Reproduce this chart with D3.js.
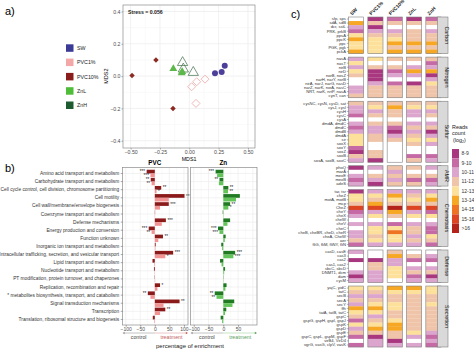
<!DOCTYPE html>
<html><head><meta charset="utf-8">
<script src="https://cdn.jsdelivr.net/npm/d3@7"></script>
<style>body{margin:0;background:#fff}svg{display:block;font-family:"Liberation Sans",Arial,sans-serif}</style>
</head><body><svg id="c" width="474" height="350"></svg>
<script>
// ---------- Panel a data ----------
const treatments = ["SW","PVC1%","PVC10%","ZnL","ZnH"];
const treatmentColors = ["#3b3a97","#f3a7a7","#8b1c1c","#4fbd3a","#1f5b30"];
const swMDS1 = [0.219, 0.276, 0.302];
const swMDS2 = [0.017, 0.025, 0.064];
const pvc1MDS1 = [0.020, 0.063, 0.134, 0.057];
const pvc1MDS2 = [-0.066, -0.035, -0.019, -0.169];
const pvc10MDS1 = [-0.488, -0.284, -0.139];
const pvc10MDS2 = [0.003, 0.099, -0.200];
const znLMDS1 = [-0.136, -0.065, -0.060];
const znLMDS2 = [0.048, 0.023, 0.030];
const znHMDS1 = [-0.057, -0.051, 0.034];
const znHMDS2 = [0.088, 0.048, 0.027];
const mds1Ticks = [-0.50, -0.25, 0.00, 0.25, 0.50];
const mds2Ticks = [-0.4, -0.2, 0.0, 0.2, 0.4];
const stressLabel = "Stress = 0.056";

// ---------- Panel b data ----------
const cogCategories = [
 "Amino acid transport and metabolism",
 "Carbohydrate transport and metabolism",
 "Cell cycle control, cell division, chromosome partitioning",
 "Cell motility",
 "Cell wall/membrane/envelope biogenesis",
 "Coenzyme transport and metabolism",
 "Defense mechanisms",
 "Energy production and conversion",
 "Function unknown",
 "Inorganic ion transport and metabolism",
 "Intracellular trafficking, secretion, and vesicular transport",
 "Lipid transport and metabolism",
 "Nucleotide transport and metabolism",
 "PT modification, protein turnover, and chaperones",
 "Replication, recombination and repair",
 "* metabolites biosynthesis, transport, and catabolism",
 "Signal transduction mechanisms",
 "Transcription",
 "Translation, ribosomal structure and biogenesis"];
const pvc10Values = [-28,-14,22,102,48,1,38,-21,28,3,63,-8,-3,-1,18,-24,85,36,-7];
const pvc1Values  = [-15,-11,6,48,18,1,24,-11,12,2,36,-2,-1,1,9,-15,30,18,-2];
const znHValues   = [-26,-13,17,56,23,-2,23,-18,8,-7,40,-11,6,-1,11,-29,37,10,-9];
const znLValues   = [-21,-15,16,43,17,1,14,-13,5,-4,34,-6,3,1,7,-23,31,6,-4];
const pvc10Stars = ["***","**","**","**","***","","***","***","**","","***","","","","*","**","**","**",""];
const pvc1Stars  = ["***","**","*","","","","","**","","","*","","","","","","","",""];
const znHStars   = ["***","**","**","","**","","","***","","","***","","","","","**","","",""];
const znLStars   = ["","","**","","*","","","***","","","***","","","","","**","","",""];
const pvcTicks = [-100,-50,0,50,100];
const znTicks = [-100,-50,0,50];

// ---------- Panel c data ----------
const heatColumns = ["SW","PVC1%","PVC10%","ZnL","ZnH"];
const heatGroups = ["Carbon","Nitrogen","Sulfur","AMR","Chemotaxis","Defense","Secretion"];
const levelLabels = ["8-9","9-10","10-11","11-12","12-13","13-14","14-15","15-16",">16"];
const levelColors = ["#a8377f","#c66aa6","#dca5cd","#efc4a9","#fde19b","#f6a724","#ee7424","#dd4421","#b3231a"];
const carbonGenes = ["sfp, sps","sdA, sdB","dcr, sstL","PRK, prkB","ppsA","ppcK","ppc","PGK, pgk","pckA"];
const carbonLevels = [[0,1,2,1,2],[6,4,4,4,4],[3,1,0,0,0],[2,3,3,4,3],[5,4,4,4,4],[6,5,5,4,4],[5,5,6,6,6],[5,5,4,4,4],[6,5,6,6,6]];
const nitrogenGenes = ["nasA","nasT","nirB","nirD","norB, nosZ","narH, narY, nxrB","nirA, narJ, narG, nasD","narZ, narK, nxrA, nasC","NRT, narK, nrtP, nasA","cynT, can"];
const nitrogenLevels = [[3,5,4,4,4],[5,0,0,0,2],[3,4,4,3,3],[5,1,2,6,6],[4,1,3,3,1],[0,1,0,0,3],[0,3,2,1,5],[3,4,4,4,4],[3,4,4,4,4],[4,4,4,4,4]];
const sulfurGenes = ["cysNC, cysN, cysD, sat","cysJ, cysI","cysH","cysC","cysA","dmdA, dmdC","dmdC","dmdB","dmdA","sir","soxX","soxY","soxZ","soxB","soxA, soxB, soxC"];
const sulfurLevels = [[4,4,4,4,4],[3,5,6,5,5],[3,3,4,3,3],[2,4,4,3,4],[0,0,0,0,0],[3,4,4,3,3],[2,3,2,4,4],[3,3,1,3,1],[5,4,3,4,3],[5,4,4,5,5],[5,0,0,4,3],[2,0,0,0,0],[1,4,0,0,0],[4,4,0,2,2],[3,1,0,4,3]];
const amrGenes = ["phoQ","marA","mexE","mexB","adeS"];
const amrLevels = [[1,3,4,4,3],[0,0,3,0,0],[3,4,4,4,4],[2,3,3,2,2],[3,1,4,4,3]];
const chemoGenes = ["tar, tsr","cheZ","motA, motB","mcp","CheZ","cheY","cheX","cheW","cheV","cheC","cheB, cheBR, cheD, cheR","cheA, CheW","aer","fliG, fliM, fliNY, fliN"];
const chemoLevels = [[1,3,3,3,3],[5,5,6,4,5],[5,4,5,5,6],[4,6,4,4,4],[8,8,9,8,8],[2,3,6,3,2],[3,5,4,5,5],[0,0,0,0,0],[3,3,2,3,3],[0,5,5,4,2],[3,5,7,4,2],[3,4,5,3,5],[4,5,5,4,4],[2,3,3,3,2]];
const defenseGenes = ["casD, casE","cas3","cas2","cas1, cas2","sbcC, sbcD","DNMT1, dcm","dam","cycM"];
const defenseLevels = [[3,0,4,0,0],[0,0,6,4,3],[1,1,3,2,2],[0,4,3,0,0],[0,4,5,3,3],[3,3,5,4,4],[1,3,5,2,1],[3,3,0,3,3]];
const secretionGenes = ["yajC, yidC","tatC","secB","secA","secY","ffh","tatA, tatB, tatC","gspC","gspG, gspH, gspI, gspJ","gspK","gspD","gspE","gspC, gspL, gspM, gspF","virB4, VirD4","vgrG, vasG, clpV, vasK"];
const secretionLevels = [[5,5,6,6,5],[4,4,5,5,5],[3,3,4,4,4],[4,4,4,4,4],[3,5,5,4,5],[6,6,5,4,4],[5,5,4,4,4],[4,3,4,4,4],[2,4,5,4,4],[5,5,6,4,4],[3,6,6,4,4],[4,4,4,5,3],[2,1,4,3,2],[0,3,1,0,3],[2,3,3,3,2]];

const svg = d3.select("#c");
const gridCol = "#ebebeb", borderCol = "#8c8c8c", tickTxt = "#4d4d4d";

// panel labels
svg.append("text").attr("x",5).attr("y",15).attr("font-size",11).text("a)");
svg.append("text").attr("x",5).attr("y",172).attr("font-size",11).text("b)");
svg.append("text").attr("x",291).attr("y",18).attr("font-size",11).text("c)");

// ================= Panel a =================
(function(){
  const L=123,R=255,T=5,B=148;
  const x = d3.scaleLinear([-0.565,0.56],[L,R]);
  const y = d3.scaleLinear([-0.445,0.44],[B,T]);
  const g = svg.append("g");
  const minorX = d3.range(-0.625,0.6,0.25), minorY = d3.range(-0.3,0.41,0.2);
  g.selectAll(".mx").data(minorX.filter(v=>v>-0.565&&v<0.56)).join("line").attr("x1",d=>x(d)).attr("x2",d=>x(d)).attr("y1",T).attr("y2",B).attr("stroke","#f4f4f4").attr("stroke-width",0.5);
  g.selectAll(".my").data(minorY).join("line").attr("y1",d=>y(d)).attr("y2",d=>y(d)).attr("x1",L).attr("x2",R).attr("stroke","#f4f4f4").attr("stroke-width",0.5);
  g.selectAll(".gx").data(mds1Ticks).join("line").attr("x1",d=>x(d)).attr("x2",d=>x(d)).attr("y1",T).attr("y2",B).attr("stroke",gridCol).attr("stroke-width",0.7);
  g.selectAll(".gy").data(mds2Ticks).join("line").attr("y1",d=>y(d)).attr("y2",d=>y(d)).attr("x1",L).attr("x2",R).attr("stroke",gridCol).attr("stroke-width",0.7);
  const ax = g.append("g").attr("transform",`translate(0,${B})`).call(d3.axisBottom(x).tickValues(mds1Ticks).tickFormat(d3.format(".2f")).tickSize(1.5).tickPadding(0.5));
  const ay = g.append("g").attr("transform",`translate(${L},0)`).call(d3.axisLeft(y).tickValues(mds2Ticks).tickFormat(d3.format(".1f")).tickSize(1.5).tickPadding(1));
  [ax,ay].forEach(a=>{a.select(".domain").remove();a.selectAll("line").attr("stroke","#555").attr("stroke-width",0.5);a.selectAll("text").attr("font-size",5.2).attr("fill",tickTxt).attr("font-family","Liberation Sans, Arial");});
  g.append("rect").attr("x",L).attr("y",T).attr("width",R-L).attr("height",B-T).attr("fill","none").attr("stroke",borderCol).attr("stroke-width",0.7);
  g.append("text").attr("x",(L+R)/2).attr("y",160.5).attr("text-anchor","middle").attr("font-size",5.3).text("MDS1");
  g.append("text").attr("transform",`translate(108,${y(0)}) rotate(-90)`).attr("text-anchor","middle").attr("font-size",5.5).text("MDS2");
  g.append("text").attr("x",128).attr("y",14).attr("font-size",5.2).attr("font-weight","bold").attr("fill","#222").text(stressLabel);
  const diamond = d3.symbol().type(d3.symbolSquare);
  g.selectAll(".p1").data(d3.zip(pvc1MDS1,pvc1MDS2)).join("path").attr("d",diamond.size(32)()).attr("transform",d=>`translate(${x(d[0])},${y(d[1])}) rotate(45)`).attr("fill","none").attr("stroke","#f0b4b4").attr("stroke-width",0.9);
  g.selectAll(".zh").data(d3.zip(znHMDS1,znHMDS2)).join("path").attr("d",d3.symbol(d3.symbolTriangle,46)()).attr("transform",d=>`translate(${x(d[0])},${y(d[1])+0.7})`).attr("fill","none").attr("stroke","#3f6e48").attr("stroke-width",0.7);
  g.selectAll(".zl").data(d3.zip(znLMDS1,znLMDS2)).join("path").attr("d",d3.symbol(d3.symbolTriangle,27)()).attr("transform",d=>`translate(${x(d[0])},${y(d[1])+0.5})`).attr("fill","#5cb84a");
  g.selectAll(".p10").data(d3.zip(pvc10MDS1,pvc10MDS2)).join("path").attr("d",diamond.size(15)()).attr("transform",d=>`translate(${x(d[0])},${y(d[1])}) rotate(45)`).attr("fill","#8b2a22");
  g.selectAll(".sw").data(d3.zip(swMDS1,swMDS2)).join("circle").attr("cx",d=>x(d[0])).attr("cy",d=>y(d[1])).attr("r",3).attr("fill","#4c3f9a");
  const lg = svg.append("g");
  treatments.forEach((t,i)=>{
    const yy = 48 + i*14.3;
    lg.append("rect").attr("x",66).attr("y",yy-3.7).attr("width",7.5).attr("height",7.5).attr("fill",treatmentColors[i]);
    lg.append("text").attr("x",77).attr("y",yy+2).attr("font-size",5.3).attr("fill","#222").text(t);
  });
})();

// ================= Panel b =================
(function(){
  const T=167.5,B=325;
  const y = d3.scaleBand(cogCategories,[169.4,323.5]);
  const sub = d3.scaleBand(["dark","light"],[0.35,y.bandwidth()-0.35]);
  const panels = [
    {name:"PVC",L:122.5,R:188,ticks:pvcTicks,dark:pvc10Values,light:pvc1Values,ds:pvc10Stars,ls:pvc1Stars,cd:"#8b1a1a",cl:"#f29494",tc:"#c0605e",lc:"#e7b7b7"},
    {name:"Zn",L:190.5,R:257,ticks:znTicks,dark:znHValues,light:znLValues,ds:znHStars,ls:znLStars,cd:"#1f7a22",cl:"#63c45a",tc:"#5aa05a",lc:"#b9dfb4"}
  ];
  panels.forEach((p,pi)=>{
    const x = d3.scaleLinear([-111,114],[p.L,p.R]);
    const g = svg.append("g");
    g.selectAll(".mn").data([-75,-25,25,75]).join("line").attr("x1",d=>x(d)).attr("x2",d=>x(d)).attr("y1",T).attr("y2",B).attr("stroke","#f4f4f4").attr("stroke-width",0.5);
    g.selectAll(".mj").data(pvcTicks).join("line").attr("x1",d=>x(d)).attr("x2",d=>x(d)).attr("y1",T).attr("y2",B).attr("stroke",gridCol).attr("stroke-width",0.6);
    g.selectAll(".hy").data(cogCategories).join("line").attr("y1",d=>y(d)+y.bandwidth()/2).attr("y2",d=>y(d)+y.bandwidth()/2).attr("x1",p.L).attr("x2",p.R).attr("stroke",gridCol).attr("stroke-width",0.6);
    cogCategories.forEach((c,i)=>{
      [["dark",p.dark[i],p.cd,p.ds[i]],["light",p.light[i],p.cl,p.ls[i]]].forEach(([k,v,col,st])=>{
        const yy = y(c)+sub(k);
        g.append("rect").attr("x",Math.min(x(0),x(v))).attr("y",yy).attr("width",Math.abs(x(v)-x(0))).attr("height",sub.bandwidth()).attr("fill",col);
        if(st){
          g.append("text").attr("x",v>=0?x(v)+1.5:x(v)-1.5).attr("y",yy+sub.bandwidth()/2+1.6).attr("text-anchor",v>=0?"start":"end").attr("font-size",4.6).attr("fill","#222").text(st);
        }
      });
    });
    g.append("rect").attr("x",p.L).attr("y",T).attr("width",p.R-p.L).attr("height",B-T).attr("fill","none").attr("stroke",borderCol).attr("stroke-width",0.7);
    const ax = g.append("g").attr("transform",`translate(0,${B})`).call(d3.axisBottom(x).tickValues(p.ticks).tickSize(1.8).tickPadding(0.8));
    ax.select(".domain").remove();
    ax.selectAll("line").attr("stroke","#555").attr("stroke-width",0.5);
    ax.selectAll("text").attr("font-size",5).attr("fill",tickTxt).attr("font-family","Liberation Sans, Arial");
    g.append("text").attr("x",x(0)).attr("y",165).attr("text-anchor","middle").attr("font-size",6.3).attr("font-weight","bold").text(p.name);
    const ly=333;
    g.append("line").attr("x1",p.L+1).attr("x2",x(0)).attr("y1",ly).attr("y2",ly).attr("stroke","#b5b5b5").attr("stroke-width",0.8);
    g.append("line").attr("x1",x(0)).attr("x2",p.R-1).attr("y1",ly).attr("y2",ly).attr("stroke",p.lc).attr("stroke-width",0.8);
    g.append("path").attr("d",`M${p.L},${ly}l2.2,-1.2v2.4z`).attr("fill","#9a9a9a");
    g.append("path").attr("d",`M${p.R},${ly}l-2.2,-1.2v2.4z`).attr("fill",p.tc);
    g.append("text").attr("x",(p.L+x(0))/2).attr("y",339).attr("text-anchor","middle").attr("font-size",5.2).attr("fill","#444").text("control");
    g.append("text").attr("x",(x(0)+p.R)/2).attr("y",339).attr("text-anchor","middle").attr("font-size",5.2).attr("fill",p.tc).text("treatment");
    if(pi===0){
      const ay = g.append("g").attr("transform",`translate(${p.L},0)`).call(d3.axisLeft(y).tickSize(1.8).tickPadding(1.5));
      ay.select(".domain").remove();
      ay.selectAll("line").attr("stroke","#555").attr("stroke-width",0.5);
      ay.selectAll("text").attr("font-size",4.8).attr("fill","#333").attr("font-family","Liberation Sans, Arial");
    }
  });
  svg.append("text").attr("x",190).attr("y",348).attr("text-anchor","middle").attr("font-size",6).attr("fill","#222").text("percentage of enrichment");
})();

// ================= Panel c =================
(function(){
  const facetGenes = [carbonGenes,nitrogenGenes,sulfurGenes,amrGenes,chemoGenes,defenseGenes,secretionGenes];
  const facetLevels = [carbonLevels,nitrogenLevels,sulfurLevels,amrLevels,chemoLevels,defenseLevels,secretionLevels];
  const top=17, bottom=347, gap=3.5;
  const nRows = d3.sum(facetGenes,d=>d.length);
  const rowH = (bottom-top-gap*(facetGenes.length-1))/nRows;
  const x = d3.scaleBand(heatColumns,[348.5,441]).paddingInner(0.215).paddingOuter(0);
  const stripL = 437.5, stripR = 448;
  const color = d3.scaleOrdinal(d3.range(1,10),levelColors);
  let cur = top;
  const g = svg.append("g");
  facetGenes.forEach((genes,fi)=>{
    const h = genes.length*rowH;
    const y = d3.scaleBand(d3.range(genes.length),[cur,cur+h]);
    heatColumns.forEach((col,ci)=>{
      genes.forEach((gname,ri)=>{
        const lv = facetLevels[fi][ri][ci];
        g.append("rect").attr("x",x(col)).attr("y",y(ri)).attr("width",x.bandwidth()).attr("height",y.bandwidth()+0.15)
          .attr("fill",lv===0?"#ffffff":color(lv));
      });
      g.append("rect").attr("x",x(col)).attr("y",cur).attr("width",x.bandwidth()).attr("height",h).attr("fill","none").attr("stroke","#7f7f7f").attr("stroke-width",0.6);
    });
    g.append("rect").attr("x",stripL).attr("y",cur).attr("width",stripR-stripL).attr("height",h).attr("fill","#d9d9d9").attr("stroke","#7f7f7f").attr("stroke-width",0.6);
    g.append("text").attr("transform",`translate(${(stripL+stripR)/2+1.9},${cur+h/2}) rotate(90)`).attr("text-anchor","middle").attr("font-size",5.4).attr("fill","#1a1a1a").text(heatGroups[fi]);
    const ay = g.append("g").attr("transform",`translate(${x(heatColumns[0])},0)`).call(d3.axisLeft(y).tickSize(1.6).tickPadding(1).tickFormat(i=>genes[i]));
    ay.select(".domain").remove();
    ay.selectAll("line").attr("stroke","#555").attr("stroke-width",0.45);
    ay.selectAll("text").attr("font-size",4.1).attr("fill","#333").attr("font-family","Liberation Sans, Arial");
    cur += h + gap;
  });
  heatColumns.forEach(col=>{
    g.append("text").attr("transform",`translate(${x(col)+3.5},${15.5}) rotate(-45)`).attr("font-size",4.9).attr("font-weight","bold").attr("fill","#222").text(col);
  });
  const lg = svg.append("g");
  ["Reads","count"].forEach((t,i)=>lg.append("text").attr("x",452).attr("y",129+i*6.3).attr("font-size",5.4).attr("fill","#222").text(t));
  const l3 = lg.append("text").attr("x",453).attr("y",141.6).attr("font-size",5.4).attr("fill","#222");
  l3.append("tspan").text("(log");
  l3.append("tspan").attr("font-size",3.6).attr("dy",1.2).text("2");
  l3.append("tspan").attr("dy",-1.2).text(")");
  const ly = d3.scaleBand(levelLabels,[149,233]);
  levelLabels.forEach((lab,i)=>{
    lg.append("rect").attr("x",452).attr("y",ly(lab)).attr("width",7).attr("height",ly.bandwidth()).attr("fill",levelColors[i]);
    lg.append("text").attr("x",461.5).attr("y",ly(lab)+ly.bandwidth()/2+1.8).attr("font-size",5).attr("fill","#333").text(lab);
  });
})();
</script></body></html>
